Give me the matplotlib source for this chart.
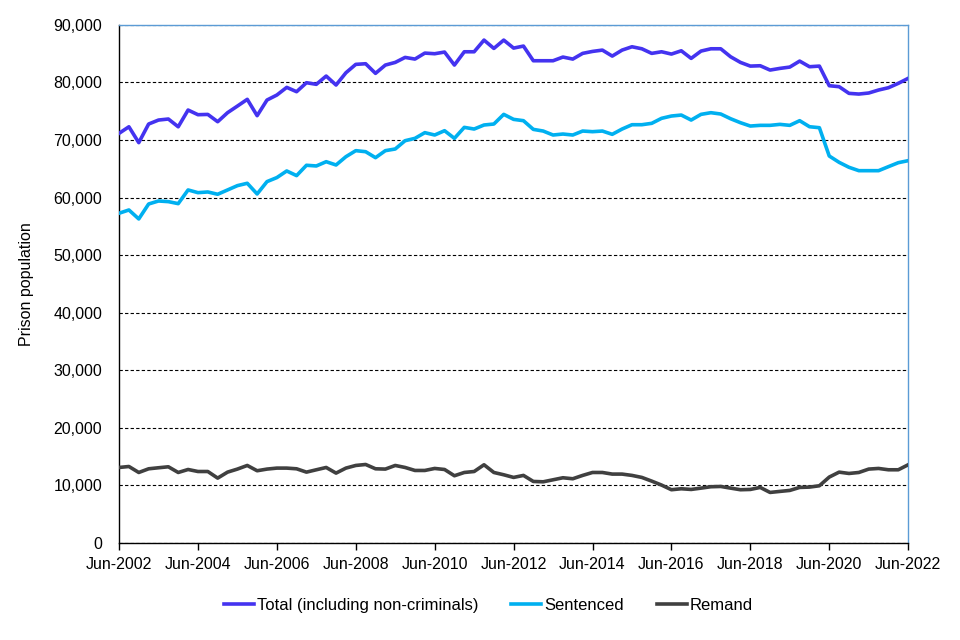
import matplotlib
matplotlib.use("Agg")
import matplotlib.pyplot as plt
import pandas as pd

plt.rcParams['font.family'] = ['Liberation Sans', 'DejaVu Sans']

# quarterly, Jun-2002 .. Jun-2022
quarters = pd.period_range("2002Q2", "2022Q2", freq="Q")

total = [71160, 72300, 69540, 72780, 73470, 73650, 72300, 75210, 74400, 74450,
         73180, 74750, 75900, 77070, 74230, 76950, 77820, 79150, 78400, 79960,
         79680, 81120, 79560, 81690, 83150, 83260, 81590, 83030, 83490, 84360,
         84070, 85110, 85000, 85290, 83030, 85340, 85340, 87370, 85920, 87370,
         85980, 86330, 83780, 83780, 83780, 84420, 84070, 85060, 85400, 85630,
         84590, 85630, 86210, 85860, 85060, 85340, 84940, 85510, 84190, 85460,
         85860, 85860, 84470, 83490, 82850, 82910, 82160, 82450, 82680, 83720,
         82740, 82850, 79440, 79270, 78110, 77990, 78170, 78690, 79090, 79850,
         80720]

sentenced = [57270, 57840, 56280, 58880, 59400, 59290, 58940, 61320, 60850, 60970,
             60570, 61320, 62070, 62480, 60620, 62770, 63470, 64620, 63810, 65610,
             65490, 66230, 65660, 67100, 68150, 67970, 66930, 68150, 68440, 69880,
             70290, 71280, 70870, 71620, 70290, 72200, 71910, 72610, 72780, 74460,
             73590, 73360, 71850, 71560, 70870, 71040, 70870, 71560, 71450, 71560,
             70990, 71910, 72660, 72660, 72900, 73770, 74170, 74340, 73470, 74460,
             74750, 74520, 73700, 73010, 72430, 72550, 72550, 72720, 72550, 73360,
             72310, 72140, 67220, 66120, 65260, 64670, 64670, 64670, 65370, 66060,
             66410]

remand = [13080, 13250, 12210, 12850, 13030, 13200, 12210, 12730, 12380, 12380,
          11230, 12270, 12800, 13430, 12510, 12800, 12970, 12970, 12850, 12270,
          12680, 13080, 12100, 12970, 13430, 13600, 12850, 12800, 13430, 13080,
          12560, 12560, 12910, 12730, 11640, 12210, 12380, 13550, 12210, 11810,
          11350, 11700, 10650, 10590, 10940, 11290, 11120, 11700, 12210, 12210,
          11930, 11930, 11700, 11350, 10710, 10020, 9210, 9380, 9260, 9490,
          9730, 9780, 9490, 9210, 9260, 9610, 8740, 8920, 9090, 9610,
          9670, 9900, 11410, 12270, 12040, 12210, 12800, 12910, 12680, 12680,
          13550]

labels = [q.strftime("Jun-%Y") for q in quarters]
x = list(range(len(quarters)))

fig, ax = plt.subplots(figsize=(9.6, 6.4), dpi=100)
fig.subplots_adjust(left=0.124, right=0.946, top=0.961, bottom=0.152)

ax.plot(x, total, color='#4433F0', lw=2.6, label='Total (including non-criminals)', zorder=3)
ax.plot(x, sentenced, color='#00B0F0', lw=2.6, label='Sentenced', zorder=3)
ax.plot(x, remand, color='#404040', lw=2.6, label='Remand', zorder=3)

ax.set_xlim(0, len(x) - 1)
ax.set_ylim(0, 90000)
ax.set_yticks(range(0, 90001, 10000))
ax.set_yticklabels([f"{v:,}" for v in range(0, 90001, 10000)])
ax.set_xticks(x[::8])
ax.set_xticklabels(labels[::8])
ax.tick_params(axis='y', length=0, labelsize=11.5, pad=12)
ax.tick_params(axis='x', length=5, width=1, labelsize=11.5, direction='out', pad=5)

ax.yaxis.grid(True, color='black', linestyle=(0, (3, 2)), linewidth=0.8)
ax.set_axisbelow(True)

for s in ['top', 'right']:
    ax.spines[s].set_color('#5B9BD5')
    ax.spines[s].set_linewidth(1)
for s in ['left', 'bottom']:
    ax.spines[s].set_color('black')
    ax.spines[s].set_linewidth(1)

ax.set_ylabel('Prison population', fontsize=11.5, labelpad=14)

ax.legend(loc='upper center', bbox_to_anchor=(0.468, -0.078), ncol=3, frameon=False,
          fontsize=12, handlelength=1.8, handletextpad=0.15, columnspacing=2.0)

fig.savefig('out.png', dpi=100)
